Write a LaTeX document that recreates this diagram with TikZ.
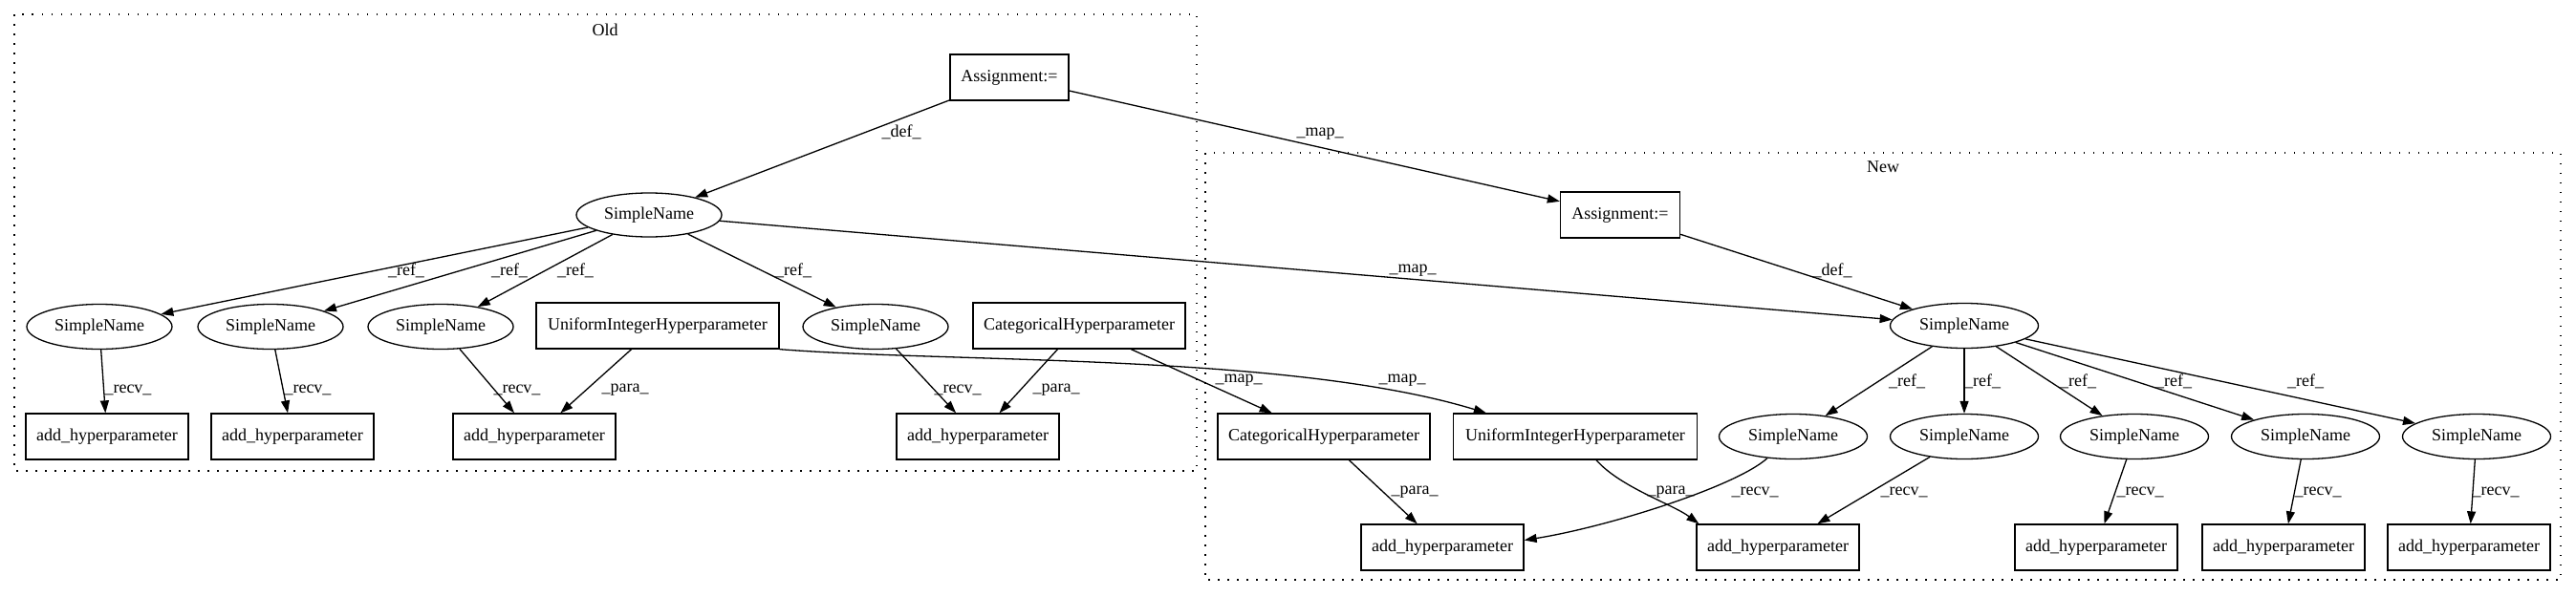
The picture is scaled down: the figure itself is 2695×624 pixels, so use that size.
\documentclass[tikz,border=0pt]{standalone}
\usepackage{fontspec}
\setmainfont{Liberation Serif}
\usetikzlibrary{shapes.geometric,arrows.meta}
\begin{document}
\begin{tikzpicture}[x=1pt,y=-1pt,
  every node/.style={font=\fontsize{18}{21}\selectfont},
  box/.style={draw,rectangle,line width=1.3pt,minimum height=48pt,inner sep=0pt},
  oval/.style={draw,ellipse,line width=1.3pt,minimum width=155pt,minimum height=47pt,inner sep=0pt},
  conn/.style={line width=1.3pt,-{Triangle[length=13pt,width=9pt]}},
  lbl/.style={inner sep=0pt},
  cluster/.style={line width=1.5pt,dash pattern=on 1.5pt off 8.5pt}]
\useasboundingbox (0,0) rectangle (2695,624);

% clusters
\draw[cluster] (15,15) rectangle (1252,493);
\node (oldlbl) at (633,31) {Old};
\draw[cluster] (1261,160) rectangle (2679,607);
\node (newlbl) at (1970,175) {New};

% Old nodes
\node[box,minimum width=124pt] (ao) at (1056,81) {Assignment:=};
\node[oval,minimum width=152pt,minimum height=46pt] (so) at (679,225) {SimpleName};
\node[oval,minimum width=152pt] (s1) at (104,342) {SimpleName};
\node[oval,minimum width=152pt] (s2) at (283,342) {SimpleName};
\node[oval,minimum width=152pt] (s3) at (461,342) {SimpleName};
\node[oval,minimum width=152pt] (s4) at (916,342) {SimpleName};
\node[box,minimum width=254pt] (uo) at (688,341) {UniformIntegerHyperparameter};
\node[box,minimum width=222pt] (co) at (1129,341) {CategoricalHyperparameter};
\node[box,minimum width=170pt] (h1) at (112,457) {add\_hyperparameter};
\node[box,minimum width=170pt] (h2) at (306,457) {add\_hyperparameter};
\node[box,minimum width=170pt] (h3) at (559,457) {add\_hyperparameter};
\node[box,minimum width=170pt] (h4) at (1023,457) {add\_hyperparameter};

% New nodes
\node[box,minimum width=125pt] (an) at (1695,225) {Assignment:=};
\node[oval] (sn) at (2055,341) {SimpleName};
\node[box,minimum width=222pt] (cn) at (1385,457) {CategoricalHyperparameter};
\node[box,minimum width=255pt] (un) at (1648,457) {UniformIntegerHyperparameter};
\node[oval] (sa) at (1876,457) {SimpleName};
\node[oval] (sb) at (2055,457) {SimpleName};
\node[oval] (sc) at (2233,457) {SimpleName};
\node[oval] (sd) at (2412,457) {SimpleName};
\node[oval] (se) at (2591,457) {SimpleName};
\node[box,minimum width=170pt] (ha) at (1509,573) {add\_hyperparameter};
\node[box,minimum width=170pt] (hb) at (1860,573) {add\_hyperparameter};
\node[box,minimum width=170pt] (hc) at (2193,573) {add\_hyperparameter};
\node[box,minimum width=170pt] (hd) at (2389,573) {add\_hyperparameter};
\node[box,minimum width=170pt] (he) at (2583,573) {add\_hyperparameter};

% Old edges
\draw[conn] (ao) -- (so) node[lbl] at (943,138) {\_def\_};
\draw[conn] (so) -- (s1) node[lbl] at (425,283) {\_ref\_};
\draw[conn] (so) -- (s2) node[lbl] at (533,283) {\_ref\_};
\draw[conn] (so) -- (s3) node[lbl] at (602,283) {\_ref\_};
\draw[conn] (so) -- (s4) node[lbl] at (830,283) {\_ref\_};
\draw[conn] (s1) -- (h1) node[lbl] at (134,408) {\_recv\_};
\draw[conn] (s2) -- (h2) node[lbl] at (322,408) {\_recv\_};
\draw[conn] (s3) -- (h3) node[lbl] at (541,408) {\_recv\_};
\draw[conn] (uo) -- (h3) node[lbl] at (654,408) {\_para\_};
\draw[conn] (s4) -- (h4) node[lbl] at (1002,408) {\_recv\_};
\draw[conn] (co) -- (h4) node[lbl] at (1105,408) {\_para\_};

% mapping edges
\draw[conn] (ao) -- (an) node[lbl] at (1381,140) {\_map\_};
\draw[conn] (so) -- (sn) node[lbl] at (1478,283) {\_map\_};
\draw[conn] (co) -- (cn) node[lbl] at (1296,398) {\_map\_};
\draw[conn] (uo.south east) .. controls (1000,380) and (1350,370) .. ([xshift=35pt]un.north west) node[lbl] at (1467,398) {\_map\_};

% New edges
\draw[conn] (an) -- (sn) node[lbl] at (1917,283) {\_def\_};
\draw[conn] (sn) -- (sa) node[lbl] at (1995,399) {\_ref\_};
\draw[conn] (sn) -- (sb) node[lbl] at (2074,399) {\_ref\_};
\draw[conn] (sn) -- (sc) node[lbl] at (2174,399) {\_ref\_};
\draw[conn] (sn) -- (sd) node[lbl] at (2274,399) {\_ref\_};
\draw[conn] (sn) -- (se) node[lbl] at (2412,399) {\_ref\_};
\draw[conn] (cn) -- (ha) node[lbl] at (1480,515) {\_para\_};
\draw[conn] ([xshift=22pt]un.south) .. controls (1695,510) and (1750,528) .. ([xshift=3pt]hb.north west) node[lbl] at (1748,515) {\_para\_};
\draw[conn] (sa.-140) .. controls (1815,510) and (1680,552) .. (ha.5) node[lbl] at (1836,515) {\_recv\_};
\draw[conn] (sb) -- (hb) node[lbl] at (1992,515) {\_recv\_};
\draw[conn] (sc) -- (hc) node[lbl] at (2239,515) {\_recv\_};
\draw[conn] (sd) -- (hd) node[lbl] at (2425,515) {\_recv\_};
\draw[conn] (se) -- (he) node[lbl] at (2611,515) {\_recv\_};
\end{tikzpicture}
\end{document}
